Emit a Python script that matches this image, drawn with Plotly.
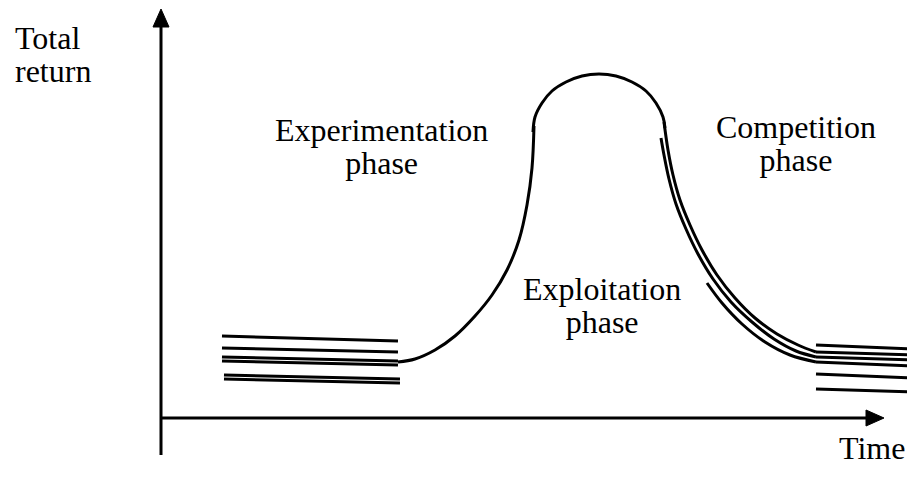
import plotly.graph_objects as go

# ---- data (diagram coordinates, x to the right, y downward) ----
y_axis_x = [161, 161]
y_axis_y = [455, 24]
y_arrow_x = [153, 161, 169, 153]
y_arrow_y = [27, 9, 27, 27]

x_axis_x = [161, 868]
x_axis_y = [418, 418]
x_arrow_x = [866, 884, 866, 866]
x_arrow_y = [410, 418, 426, 410]

# left bundle (experimentation)
left_lines = [
    ([222, 398], [336, 341]),
    ([222, 398], [348, 352]),
    ([222, 398], [357, 361]),
    ([222, 398], [361, 365]),
    ([224, 400], [375, 379]),
    ([224, 400], [379, 383]),
]

# rising part
rise_x = [398, 415, 435, 455, 475, 492, 507, 519, 527, 532, 534]
rise_y = [362, 359, 350, 336, 316, 295, 270, 240, 205, 168, 126]

# hump
arch_x = [533, 535, 542, 552, 566, 582, 599, 616, 632, 646, 656, 663, 665]
arch_y = [132, 117, 103, 91, 82, 76, 74, 76, 82, 91, 103, 117, 128]

# falling curves (competition)
fall1_x = [664, 668, 673, 680, 690, 702, 717, 735, 755, 777, 798, 816]
fall1_y = [122, 150, 175, 200, 225, 250, 275, 298, 318, 334, 345, 352]
fall2_x = [661, 664, 669, 676, 686, 698, 713, 731, 752, 774, 796, 816]
fall2_y = [138, 155, 179, 204, 229, 254, 279, 302, 322, 339, 351, 357]
fall3_x = [707, 722, 742, 765, 790, 816]
fall3_y = [283, 303, 324, 342, 355, 362]

# right bundle
right_lines = [
    ([816, 915], [345, 349]),
    ([816, 915], [352, 355]),
    ([816, 915], [357, 360]),
    ([816, 915], [362, 366]),
    ([816, 915], [374, 378]),
    ([816, 915], [389, 392]),
]

# labels: (lines, x, first baseline y, anchor)
labels = [
    (["Total", "return"], 13, 48, "left"),
    (["Experimentation", "phase"], 381, 140, "center"),
    (["Competition", "phase"], 796, 137, "center"),
    (["Exploitation", "phase"], 602, 299, "center"),
    (["Time"], 837, 458, "left"),
]

FONT = "Liberation Serif, Times New Roman, serif"
FS = 32          # glyph size
LINE_FS = 25     # base size that sets the line spacing (1.3 x 25 ~ 32 px)
LW = 3
PAGE_MARGIN = 8   # default body margin of the html page

fig = go.Figure()

def add_line(xs, ys, shape="linear"):
    fig.add_trace(go.Scatter(x=xs, y=ys, mode="lines",
                             line=dict(color="black", width=LW, shape=shape, smoothing=1.0),
                             hoverinfo="skip", showlegend=False))

add_line(y_axis_x, y_axis_y)
add_line(x_axis_x, x_axis_y)
for xs, ys in ((y_arrow_x, y_arrow_y), (x_arrow_x, x_arrow_y)):
    fig.add_trace(go.Scatter(x=xs, y=ys, mode="lines", fill="toself", fillcolor="black",
                             line=dict(color="black", width=1),
                             hoverinfo="skip", showlegend=False))

for xs, ys in left_lines:
    add_line(xs, ys)
for xs, ys in right_lines:
    add_line(xs, ys)

add_line(rise_x, rise_y, "spline")
add_line(arch_x, arch_y, "spline")
add_line(fall1_x, fall1_y, "spline")
add_line(fall2_x, fall2_y, "spline")
add_line(fall3_x, fall3_y, "spline")

for lines, x, yb, anchor in labels:
    n = len(lines)
    text = "<br>".join(f'<span style="font-size:{FS}px">{t}</span>' for t in lines)
    yc = yb + (n - 1) * 16 - 10
    fig.add_annotation(x=x, y=yc, text=text, showarrow=False,
                       xanchor=anchor, yanchor="middle", align=anchor,
                       font=dict(family=FONT, size=LINE_FS if n > 1 else FS, color="black"))

W, H = 915, 486
fig.update_layout(
    width=W - PAGE_MARGIN, height=H - PAGE_MARGIN,
    margin=dict(l=0, r=0, t=0, b=0),
    paper_bgcolor="white", plot_bgcolor="white",
    xaxis=dict(range=[PAGE_MARGIN, W], visible=False, fixedrange=True),
    yaxis=dict(range=[H, PAGE_MARGIN], visible=False, fixedrange=True),
    showlegend=False,
)

fig.write_html("out.html")
